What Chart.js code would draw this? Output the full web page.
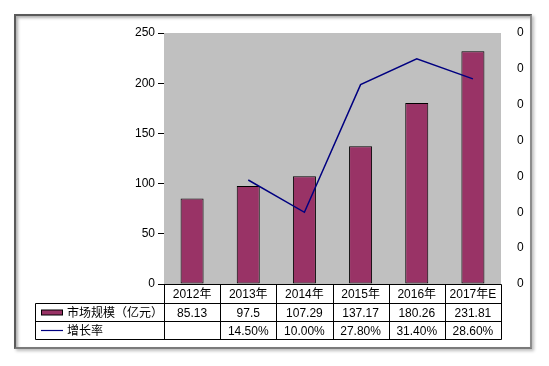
<!DOCTYPE html>
<html><head><meta charset="utf-8">
<script src="https://cdn.jsdelivr.net/npm/chart.js@4"></script>
<style>
html,body{margin:0;padding:0;background:#fff;}
#wrap{position:relative;width:549px;height:366px;}
#frame{position:absolute;left:14px;top:14px;width:514px;height:331px;border:2px solid #5a5a5a;border-right-color:#8c8c8c;border-bottom-color:#7a7a7a;box-shadow:inset 2px 2px 3px #b0b0b0, 2px 2px 3px #bdbdbd;background:#fff;}
canvas{position:absolute;left:0;top:0;}
</style></head>
<body><div id="wrap"><div id="frame"></div><canvas id="c" width="549" height="366"></canvas></div>
<script>
const categories = ['2012年','2013年','2014年','2015年','2016年','2017年E'];
const marketSize = [85.13, 97.5, 107.29, 137.17, 180.26, 231.81];
const marketLabels = ['85.13','97.5','107.29','137.17','180.26','231.81'];
const growthRate = [null, 0.145, 0.100, 0.278, 0.314, 0.286];
const growthLabels = ['', '14.50%', '10.00%', '27.80%', '31.40%', '28.60%'];
const seriesNames = ['市场规模（亿元）', '增长率'];
const leftTicks = {min:0, max:250, step:50};
const rightTicks = {min:0, max:0.35, step:0.05};

const BAR = '#993366', LINE = '#000080';
const FONT = '"Liberation Sans", Arial, "Noto Sans CJK SC", sans-serif';

const tablePlugin = {
  id:'tbl',
  beforeDatasetsDraw(chart){
    const {ctx, chartArea:a} = chart;
    ctx.save();
    ctx.fillStyle = '#c0c0c0';
    ctx.fillRect(a.left, a.top, a.right - a.left, a.bottom - a.top);
    ctx.restore();
  },
  afterDraw(chart){
    const {ctx, chartArea:a} = chart;
    const x = chart.scales.x;
    const n = categories.length;
    const colW = (a.right - a.left) / n;
    const edges = [];
    for (let i=0;i<=n;i++) edges.push(Math.round(a.left + colW*i) + 0.5);
    const y0 = Math.round(a.bottom)+0.5, y1 = y0+19, y2 = y1+18, y3 = y2+18;
    const xL = 35.5;
    ctx.save();
    ctx.strokeStyle = '#000'; ctx.lineWidth = 1;
    ctx.beginPath();
    ctx.moveTo(edges[0], y0); ctx.lineTo(edges[n], y0);
    ctx.moveTo(xL, y1); ctx.lineTo(edges[n], y1);
    ctx.moveTo(xL, y2); ctx.lineTo(edges[n], y2);
    ctx.moveTo(xL, y3); ctx.lineTo(edges[n], y3);
    ctx.moveTo(xL, y1); ctx.lineTo(xL, y3);
    for (let i=0;i<=n;i++){ ctx.moveTo(edges[i], y0); ctx.lineTo(edges[i], y3); }
    ctx.stroke();
    ctx.fillStyle = '#000';
    ctx.font = '12px ' + FONT;
    ctx.textAlign = 'center'; ctx.textBaseline = 'middle';
    for (let i=0;i<n;i++){
      const cx = x.getPixelForValue(i);
      ctx.fillText(categories[i], cx, (y0+y1)/2+1);
      ctx.fillText(marketLabels[i], cx, (y1+y2)/2+1);
      ctx.fillText(growthLabels[i], cx, (y2+y3)/2+1);
    }
    // legend keys
    ctx.fillStyle = BAR;
    ctx.fillRect(41.5, (y1+y2)/2-2.5, 21, 5);
    ctx.strokeRect(41.5, (y1+y2)/2-2.5, 21, 5);
    ctx.strokeStyle = LINE; ctx.lineWidth = 1.2;
    ctx.beginPath(); ctx.moveTo(41, (y2+y3)/2); ctx.lineTo(63, (y2+y3)/2); ctx.stroke();
    ctx.fillStyle = '#000'; ctx.textAlign = 'left';
    ctx.fillText(seriesNames[0], 67, (y1+y2)/2+1);
    ctx.fillText(seriesNames[1], 67, (y2+y3)/2+1);
    ctx.restore();
  }
};

new Chart(document.getElementById('c'), {
  data:{
    labels: categories,
    datasets:[
      {type:'line', label:seriesNames[1], data:growthRate, yAxisID:'y1', borderColor:LINE, borderWidth:1.5, pointRadius:0, fill:false, spanGaps:false, tension:0, order:0},
      {type:'bar', label:seriesNames[0], data:marketSize, yAxisID:'y', backgroundColor:BAR, borderColor:'#000', borderWidth:1, borderSkipped:false, categoryPercentage:1, barPercentage:0.41, order:1}
    ]
  },
  options:{
    responsive:false, animation:false, devicePixelRatio:1,
    layout:{padding:{top:33, bottom:82, left:0, right:0}},
    plugins:{legend:{display:false}, tooltip:{enabled:false}},
    scales:{
      x:{display:false, offset:true},
      y:{position:'left', min:leftTicks.min, max:leftTicks.max,
         ticks:{stepSize:leftTicks.step, color:'#000', font:{size:12, family:FONT}, padding:3},
         grid:{drawOnChartArea:false, drawTicks:true, tickLength:6, color:'#000'},
         border:{display:true, color:'#000', width:1},
         afterFit(s){ s.width = 164; }},
      y1:{position:'right', min:rightTicks.min, max:rightTicks.max,
         ticks:{stepSize:rightTicks.step, color:'#000', font:{size:12, family:FONT}, padding:8,
                callback:(v)=>Number(v).toFixed(0)},
         grid:{display:false},
         border:{display:false},
         afterFit(s){ s.width = 48; }}
    }
  },
  plugins:[tablePlugin]
});
</script></body></html>
